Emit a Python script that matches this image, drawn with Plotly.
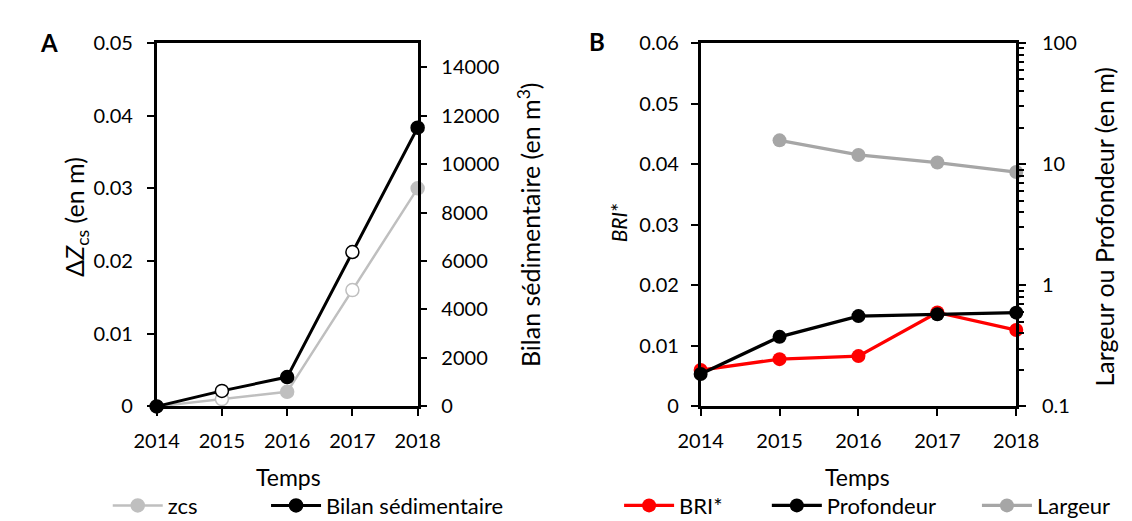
import plotly.graph_objects as go

# ---------------- data ----------------
years = [2014, 2015, 2016, 2017, 2018]
year_labels = ["2014", "2015", "2016", "2017", "2018"]

# Panel A
zcs = [0.0, 0.001, 0.002, 0.016, 0.030]             # left axis (m)
bilan = [0, 640, 1210, 6370, 11500]                  # right axis (m3)
open_years = [2015, 2017]                            # hollow markers

# Panel B
bri = [0.0060, 0.0078, 0.0083, 0.0155, 0.0126]       # left axis
profondeur = [0.185, 0.375, 0.556, 0.576, 0.594]     # right log axis (m)
largeur_years = [2015, 2016, 2017, 2018]
largeur = [15.7, 11.9, 10.3, 8.6]                    # right log axis (m)

a_left_ticks = [0, 0.01, 0.02, 0.03, 0.04, 0.05]
a_right_ticks = [0, 2000, 4000, 6000, 8000, 10000, 12000, 14000]
b_left_ticks = [0, 0.01, 0.02, 0.03, 0.04, 0.05, 0.06]
b_right_ticks = [0.1, 1, 10, 100]
b_right_labels = ["0.1", "1", "10", "100"]

# ---------------- style ----------------
FONT = "Lato"
FS_TICK = 20
FS_LEG = 22
FS_XT = 23
FS_YT = 25
W, H = 1132, 521
GRAY_A = "#BFBFBF"
GRAY_B = "#A6A6A6"
RED = "#FF0000"

def px_x(x):
    return x / W

def px_y(y):
    return 1 - y / H

A_dom = [px_x(131), px_x(403)]
B_dom = [px_x(698), px_x(1027)]
Y_dom = [px_y(404), px_y(23)]

fig = go.Figure()

zcs_fill = ["white" if y in open_years else GRAY_A for y in years]
bil_fill = ["white" if y in open_years else "black" for y in years]

fig.add_trace(go.Scatter(
    x=years, y=zcs, name="zcs", mode="lines+markers",
    line=dict(color=GRAY_A, width=2.5),
    marker=dict(size=13, color=zcs_fill, line=dict(color=GRAY_A, width=1.5)),
    xaxis="x", yaxis="y", cliponaxis=False, legend="legend", showlegend=True))
fig.add_trace(go.Scatter(
    x=years, y=bilan, name="Bilan sédimentaire", mode="lines+markers",
    line=dict(color="black", width=3),
    marker=dict(size=13, color=bil_fill, line=dict(color="black", width=1.5)),
    xaxis="x", yaxis="y2", cliponaxis=False, legend="legend2", showlegend=True))

fig.add_trace(go.Scatter(
    x=years, y=bri, name="BRI*", mode="lines+markers",
    line=dict(color=RED, width=3.3),
    marker=dict(size=14, color=RED),
    xaxis="x2", yaxis="y3", cliponaxis=False, legend="legend3", showlegend=True))
fig.add_trace(go.Scatter(
    x=years, y=profondeur, name="Profondeur", mode="lines+markers",
    line=dict(color="black", width=3.3),
    marker=dict(size=14, color="black"),
    xaxis="x2", yaxis="y4", cliponaxis=False, legend="legend4", showlegend=True))
fig.add_trace(go.Scatter(
    x=largeur_years, y=largeur, name="Largeur", mode="lines+markers",
    line=dict(color=GRAY_B, width=3.3),
    marker=dict(size=14, color=GRAY_B),
    xaxis="x2", yaxis="y4", cliponaxis=False, legend="legend5", showlegend=True))

axis_common = dict(showgrid=False, zeroline=False, showline=True, linecolor="black",
                   linewidth=2.5, ticks="outside", ticklen=7, tickwidth=2,
                   tickcolor="black", tickfont=dict(family=FONT, size=FS_TICK, color="black"))

fig.update_layout(
    width=W, height=H, margin=dict(l=0, r=0, t=0, b=0),
    paper_bgcolor="white", plot_bgcolor="white", showlegend=True,
    font=dict(family=FONT, size=FS_TICK, color="black"),
    xaxis=dict(domain=A_dom, anchor="y", range=[2014, 2018], tickvals=years,
               ticktext=year_labels, mirror=True, ticklabelstandoff=8, **axis_common),
    yaxis=dict(domain=Y_dom, anchor="x", range=[0, 0.05], tickvals=a_left_ticks,
               ticklabelstandoff=10, **axis_common),
    yaxis2=dict(overlaying="y", anchor="x", side="right", range=[0, 15000],
                tickvals=a_right_ticks, tickformat="d", ticklabelstandoff=10, **axis_common),
    xaxis2=dict(domain=B_dom, anchor="y3", range=[2014, 2018], tickvals=years,
                ticktext=year_labels, mirror=True, ticklabelstandoff=8, **axis_common),
    yaxis3=dict(domain=Y_dom, anchor="x2", range=[0, 0.06], tickvals=b_left_ticks,
                ticklabelstandoff=8, **axis_common),
    yaxis4=dict(overlaying="y3", anchor="x2", side="right", type="log", range=[-1, 2],
                tickvals=b_right_ticks, ticktext=b_right_labels, ticklabelstandoff=12,
                minor=dict(ticks="outside", ticklen=5, tickwidth=1.5, tickcolor="black",
                           tickvals=[m * 10 ** e for e in (-1, 0, 1) for m in range(2, 10)]),
                **axis_common),
)

ITEMW = 50
leg_common = dict(orientation="h", yanchor="middle", xanchor="left", y=px_y(508),
                  itemwidth=ITEMW, bgcolor="rgba(0,0,0,0)", borderwidth=0,
                  font=dict(family=FONT, size=FS_LEG, color="black"))
OFF = ITEMW + 10
fig.update_layout(
    legend=dict(x=px_x(140 - OFF), **leg_common),
    legend2=dict(x=px_x(305 - OFF), **leg_common),
    legend3=dict(x=px_x(673 - OFF), **leg_common),
    legend4=dict(x=px_x(827 - OFF), **leg_common),
    legend5=dict(x=px_x(1046 - OFF), **leg_common),
)

ann = [
    dict(text="<b>A</b>", x=px_x(19), y=px_y(23), font=dict(size=24)),
    dict(text="<b>B</b>", x=px_x(590), y=px_y(22), font=dict(size=24)),
    dict(text="Temps", x=px_x(268), y=px_y(478), font=dict(size=FS_XT)),
    dict(text="Temps", x=px_x(862), y=px_y(478), font=dict(size=FS_XT)),
    dict(text="Δ<i>Z</i><sub>cs</sub> (en m)", x=px_x(46), y=px_y(206), textangle=-90,
         font=dict(size=FS_YT)),
    dict(text="Bilan sédimentaire (en m<sup>3</sup>)", x=px_x(519), y=px_y(213), textangle=-90,
         font=dict(size=FS_YT)),
    dict(text="<i>BRI</i>*", x=px_x(612), y=px_y(212), textangle=-90, font=dict(size=21)),
    dict(text="Largeur ou Profondeur (en m)", x=px_x(1119), y=px_y(216), textangle=-90,
         font=dict(size=FS_YT)),
]
for a in ann:
    a.update(xref="paper", yref="paper", showarrow=False, xanchor="center", yanchor="middle")
    a["font"].update(family=FONT, color="black")
fig.update_layout(annotations=ann)

fig.write_html("out.html")
